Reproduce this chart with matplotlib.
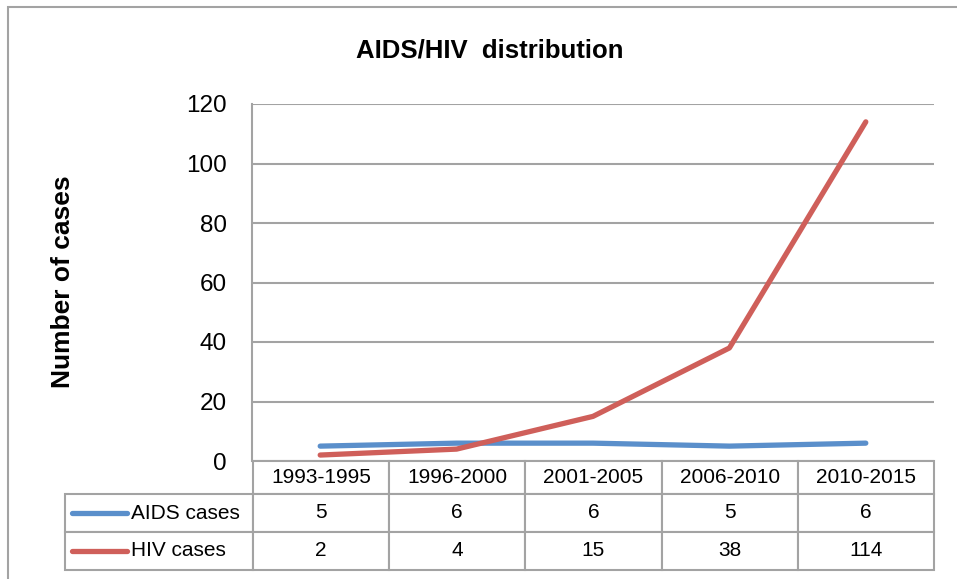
import matplotlib
matplotlib.use("Agg")
import matplotlib.pyplot as plt
from matplotlib.table import Table
from matplotlib.patches import Rectangle

# Data
periods = ["1993-1995", "1996-2000", "2001-2005", "2006-2010", "2010-2015"]
aids_cases = [5, 6, 6, 5, 6]
hiv_cases = [2, 4, 15, 38, 114]
series_names = ["AIDS cases", "HIV cases"]
series_colors = ["#5A8FCB", "#CF5F5A"]
y_ticks = [0, 20, 40, 60, 80, 100, 120]

plt.rcParams["font.family"] = ["Liberation Sans", "DejaVu Sans"]
grey = "#a3a3a3"

fig = plt.figure(figsize=(9.57, 5.79), dpi=100)
ax = fig.add_axes([252 / 957, 1 - 461 / 579, 682 / 957, 357 / 579])

# Lines
series = [aids_cases, hiv_cases]
x = list(range(len(periods)))
for vals, c in zip(series, series_colors):
    ax.plot(x, vals, color=c, lw=3.8, solid_capstyle="round",
            solid_joinstyle="round", zorder=3)

ax.set_xlim(-0.5, len(periods) - 0.5)
ax.set_ylim(0, 120)
ax.set_yticks(y_ticks)
ax.set_xticks([])
ax.tick_params(axis="y", length=0, pad=18, labelsize=17.5)
ax.grid(axis="y", color=grey, lw=1.5)
ax.set_axisbelow(True)
for s in ["top", "right", "bottom"]:
    ax.spines[s].set_visible(False)
ax.spines["left"].set_color(grey)
ax.spines["left"].set_linewidth(1.5)

# Data table under the plot
tbl = Table(ax, bbox=[-0.274, -0.305, 1.274, 0.305])
label_w, col_w = 188, 136.4
row_h = [33, 38, 38]
c0 = tbl.add_cell(0, 0, label_w, row_h[0], text="")
c0.visible_edges = ""
for j, p in enumerate(periods):
    tbl.add_cell(0, j + 1, col_w, row_h[0], text=p, loc="center")
for i, vals in enumerate(series):
    tbl.add_cell(i + 1, 0, label_w, row_h[i + 1], text="")
    for j, v in enumerate(vals):
        tbl.add_cell(i + 1, j + 1, col_w, row_h[i + 1], text=str(v), loc="center")
tbl.auto_set_font_size(False)
for cell in tbl.get_celld().values():
    cell.set_edgecolor(grey)
    cell.set_linewidth(1.5)
    cell.get_text().set_fontsize(15)
ax.add_table(tbl)

# Legend keys inside the table
row_y = [-0.1457, -0.252]
for name, c, yy in zip(series_names, series_colors, row_y):
    ax.plot([-0.264, -0.183], [yy, yy], transform=ax.transAxes, clip_on=False,
            color=c, lw=3.8, solid_capstyle="round")
    ax.text(-0.177, yy, name, transform=ax.transAxes, va="center", ha="left",
            fontsize=15)

# Titles and chart border
fig.text(0.512, 1 - 50 / 579, "AIDS/HIV  distribution", ha="center", va="center",
         fontsize=18.5, fontweight="bold")
fig.text(63 / 957, 1 - 282 / 579, "Number of cases", ha="center", va="center",
         rotation=90, fontsize=19, fontweight="bold")
fig.add_artist(Rectangle((8 / 957, -0.05), 1.2, 1 - 7 / 579 + 0.05,
                         transform=fig.transFigure, fill=False,
                         edgecolor=grey, lw=1.5))

fig.savefig("out.png", dpi=100)
